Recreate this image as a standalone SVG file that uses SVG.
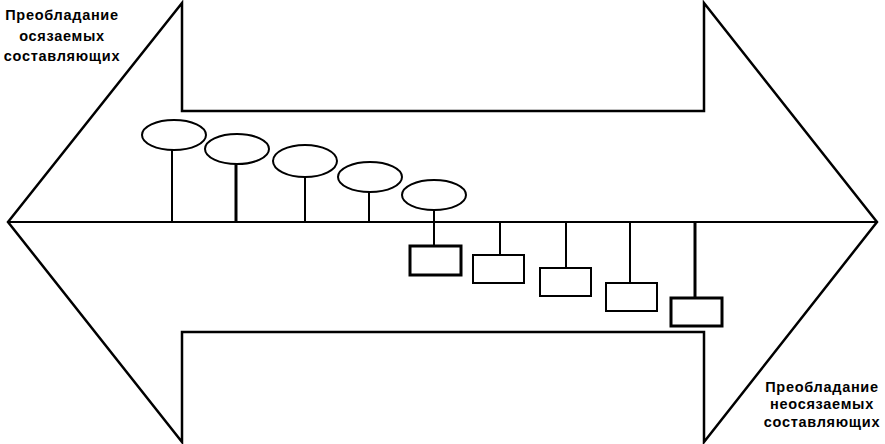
<svg xmlns="http://www.w3.org/2000/svg" width="885" height="444" viewBox="0 0 885 444">
<style>
.outline{fill:none;stroke:#000;stroke-width:2.5;stroke-linejoin:miter}
.line{fill:none;stroke:#000;stroke-width:2}
.thick{fill:none;stroke:#000;stroke-width:3}
.ell{fill:#fff;stroke:#000;stroke-width:2}
.box{fill:#fff;stroke:#000;stroke-width:2}
.boxb{fill:#fff;stroke:#000;stroke-width:3}
text{font-family:"Liberation Sans",Arial,sans-serif;font-weight:bold;font-size:14.5px;letter-spacing:0.7px;fill:#000;text-anchor:middle}
</style>
<rect width="885" height="444" fill="#fff"/>
<g id="arrow">
<path class="outline" d="M8,222 L182,3 L182,111 L704,111 L704,3 L877,222 L704,442 L704,332 L182,332 L182,442 Z"/>
<line class="line" x1="8" y1="222" x2="877" y2="222"/>
</g>
<g id="connectors">
<line class="line" x1="172" y1="150" x2="172" y2="222"/>
<line class="thick" x1="236" y1="164" x2="236" y2="222"/>
<line class="line" x1="305" y1="177" x2="305" y2="222"/>
<line class="line" x1="369" y1="192" x2="369" y2="222"/>
<line class="line" x1="434" y1="210" x2="434" y2="246"/>
<line class="line" x1="500" y1="222" x2="500" y2="255"/>
<line class="line" x1="566" y1="222" x2="566" y2="268"/>
<line class="line" x1="630" y1="222" x2="630" y2="283"/>
<line class="thick" x1="695" y1="222" x2="695" y2="298"/>
</g>
<g id="e1"><ellipse class="ell" cx="174" cy="135" rx="32" ry="15"/></g>
<g id="e2"><ellipse class="ell" cx="237" cy="149" rx="32" ry="15"/></g>
<g id="e3"><ellipse class="ell" cx="305" cy="161" rx="32" ry="16"/></g>
<g id="e4"><ellipse class="ell" cx="370" cy="177" rx="32" ry="15"/></g>
<g id="e5"><ellipse class="ell" cx="434" cy="195" rx="32" ry="15"/></g>
<g id="r1"><rect class="boxb" x="410" y="246" width="51" height="29"/></g>
<g id="r2"><rect class="box" x="473" y="255" width="51" height="28"/></g>
<g id="r3"><rect class="box" x="540" y="268" width="51" height="28"/></g>
<g id="r4"><rect class="box" x="606" y="283" width="51" height="28"/></g>
<g id="r5"><rect class="boxb" x="671" y="298" width="51" height="28"/></g>
<g id="label-top">
<text x="62" y="20">Преобладание</text>
<text x="62" y="41">осязаемых</text>
<text x="62" y="61">составляющих</text>
</g>
<g id="label-bottom">
<text x="822" y="392">Преобладание</text>
<text x="822" y="409">неосязаемых</text>
<text x="822" y="427">составляющих</text>
</g>
</svg>
